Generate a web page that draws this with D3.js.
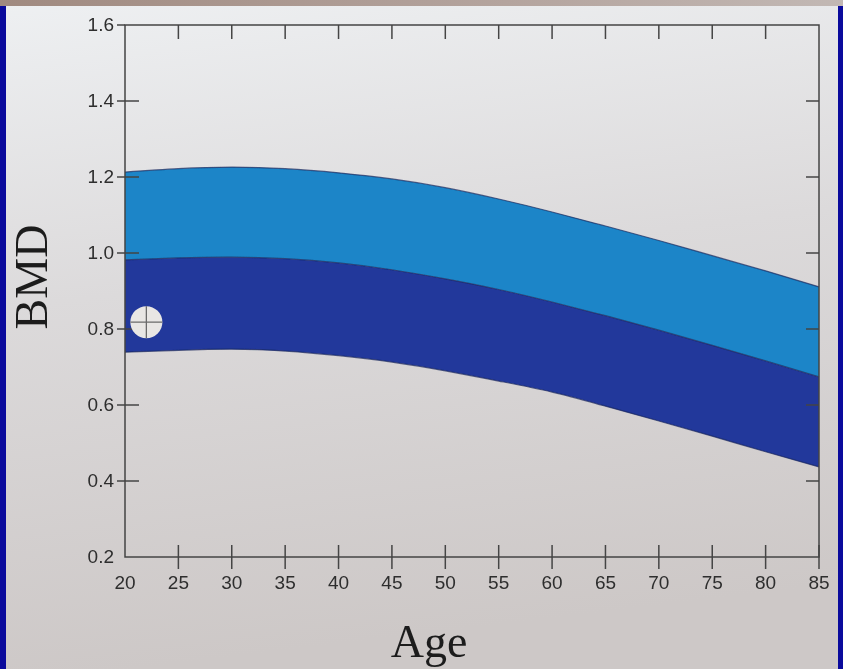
<!DOCTYPE html>
<html>
<head>
<meta charset="utf-8">
<script src="https://cdn.jsdelivr.net/npm/d3@7"></script>
<style>
  body { margin: 0; background: #0a0a9c; }
  svg { display: block; }
</style>
</head>
<body>
<div id="chart"></div>
<script>
// ages along the x axis
const ages = [20, 25, 30, 35, 40, 45, 50, 55, 60, 65, 70, 75, 80, 85];
// band edges (BMD)
const upperBMD = [1.213, 1.222, 1.226, 1.222, 1.211, 1.195, 1.172, 1.142, 1.108, 1.071, 1.033, 0.993, 0.953, 0.911];
const middleBMD = [0.982, 0.987, 0.989, 0.985, 0.974, 0.956, 0.932, 0.904, 0.871, 0.835, 0.797, 0.757, 0.716, 0.674];
const lowerBMD = [0.739, 0.744, 0.747, 0.742, 0.730, 0.713, 0.690, 0.663, 0.634, 0.597, 0.558, 0.518, 0.477, 0.437];
// the patient's measurement
const patient = { age: 22, bmd: 0.818 };
// tick labels
const xTicks = [20, 25, 30, 35, 40, 45, 50, 55, 60, 65, 70, 75, 80, 85];
const yTicks = [0.2, 0.4, 0.6, 0.8, 1.0, 1.2, 1.4, 1.6];

const width = 843;
const height = 669;

const svg = d3.select("#chart")
  .append("svg")
  .attr("width", width)
  .attr("height", height);

const defs = svg.append("defs");
const paper = defs.append("linearGradient")
  .attr("id", "paper")
  .attr("x1", 0).attr("y1", 0).attr("x2", 0.15).attr("y2", 1);
paper.append("stop").attr("offset", "0%").attr("stop-color", "#eef0f2");
paper.append("stop").attr("offset", "45%").attr("stop-color", "#dcdadb");
paper.append("stop").attr("offset", "100%").attr("stop-color", "#cdc8c7");

const table = defs.append("linearGradient")
  .attr("id", "table")
  .attr("x1", 0).attr("y1", 0).attr("x2", 1).attr("y2", 0);
table.append("stop").attr("offset", "0%").attr("stop-color", "#a08a80");
table.append("stop").attr("offset", "60%").attr("stop-color", "#b4a49e");
table.append("stop").attr("offset", "100%").attr("stop-color", "#c2b8b4");

defs.append("filter").attr("id", "soft")
  .append("feGaussianBlur").attr("stdDeviation", 0.45);

// slide frame, table edge and paper
svg.append("rect").attr("width", width).attr("height", height).attr("fill", "#0a0a9c");
svg.append("rect").attr("x", 6).attr("y", 0).attr("width", 832).attr("height", height)
  .attr("fill", "url(#paper)");
svg.append("rect").attr("x", 0).attr("y", 0).attr("width", width).attr("height", 6)
  .attr("fill", "url(#table)");

// scales
const x = d3.scaleLinear().domain([20, 85]).range([125, 819]);
const y = d3.scaleLinear().domain([0.2, 1.6]).range([557, 25]);

const rows = ages.map((a, i) => ({ age: a, up: upperBMD[i], mid: middleBMD[i], low: lowerBMD[i] }));

const g = svg.append("g").attr("filter", "url(#soft)");

const lightArea = d3.area()
  .x(d => x(d.age))
  .y0(d => y(d.mid))
  .y1(d => y(d.up))
  .curve(d3.curveNatural);

const darkArea = d3.area()
  .x(d => x(d.age))
  .y0(d => y(d.low))
  .y1(d => y(d.mid))
  .curve(d3.curveNatural);

g.append("path").datum(rows).attr("d", lightArea).attr("fill", "#1a85c8");
g.append("path").datum(rows).attr("d", darkArea).attr("fill", "#21379b");

const edge = key => d3.line().x(d => x(d.age)).y(d => y(d[key])).curve(d3.curveNatural);
["up", "mid", "low"].forEach(k => {
  g.append("path").datum(rows).attr("d", edge(k))
    .attr("fill", "none").attr("stroke", "#1c2a5e").attr("stroke-width", 1.2)
    .attr("stroke-opacity", 0.7);
});

// frame and ticks
const axisColor = "#444";
g.append("rect")
  .attr("x", x(20)).attr("y", y(1.6))
  .attr("width", x(85) - x(20)).attr("height", y(0.2) - y(1.6))
  .attr("fill", "none").attr("stroke", axisColor).attr("stroke-width", 1.5);

const inner = xTicks.filter(t => t > 20 && t < 85);
// top ticks point down
g.selectAll(".ttop").data(inner).enter().append("line")
  .attr("x1", d => x(d)).attr("x2", d => x(d))
  .attr("y1", y(1.6)).attr("y2", y(1.6) + 14)
  .attr("stroke", axisColor).attr("stroke-width", 1.5);
// bottom ticks cross the axis
g.selectAll(".tbot").data(xTicks.filter(t => t > 20)).enter().append("line")
  .attr("x1", d => x(d)).attr("x2", d => x(d))
  .attr("y1", y(0.2) - 12).attr("y2", y(0.2) + 12)
  .attr("stroke", axisColor).attr("stroke-width", 1.5);
// left ticks cross the axis
g.selectAll(".tleft").data(yTicks.filter(t => t > 0.2)).enter().append("line")
  .attr("x1", x(20) - 8).attr("x2", d => d === 1.6 ? x(20) : x(20) + 14)
  .attr("y1", d => y(d)).attr("y2", d => y(d))
  .attr("stroke", axisColor).attr("stroke-width", 1.5);
// right ticks point inward
g.selectAll(".tright").data(yTicks.filter(t => t > 0.2 && t < 1.6)).enter().append("line")
  .attr("x1", x(85) - 13).attr("x2", x(85))
  .attr("y1", d => y(d)).attr("y2", d => y(d))
  .attr("stroke", axisColor).attr("stroke-width", 1.5);

// tick labels
g.selectAll(".xl").data(xTicks).enter().append("text")
  .attr("x", d => x(d)).attr("y", y(0.2) + 32)
  .attr("text-anchor", "middle")
  .attr("font-family", "Liberation Sans, Arial, sans-serif")
  .attr("font-size", 19).attr("fill", "#2e2e2e")
  .text(d => d);

g.selectAll(".yl").data(yTicks).enter().append("text")
  .attr("x", x(20) - 11).attr("y", d => y(d) + 6)
  .attr("text-anchor", "end")
  .attr("font-family", "Liberation Sans, Arial, sans-serif")
  .attr("font-size", 19).attr("fill", "#2e2e2e")
  .text(d => d3.format(".1f")(d));

// patient marker
const px = x(patient.age), py = y(patient.bmd), r = 16;
g.append("circle").attr("cx", px).attr("cy", py).attr("r", r).attr("fill", "#e8e6e4");
g.append("line").attr("x1", px - r).attr("x2", px + r).attr("y1", py).attr("y2", py)
  .attr("stroke", "#6a6a6a").attr("stroke-width", 1.3);
g.append("line").attr("x1", px).attr("x2", px).attr("y1", py - r).attr("y2", py + r)
  .attr("stroke", "#6a6a6a").attr("stroke-width", 1.3);

// axis titles
g.append("text")
  .attr("x", 429).attr("y", 657)
  .attr("text-anchor", "middle")
  .attr("font-family", "Liberation Serif, Times New Roman, serif")
  .attr("font-size", 46).attr("fill", "#1e1e1e")
  .text("Age");

g.append("text")
  .attr("transform", "translate(47,277) rotate(-90)")
  .attr("text-anchor", "middle")
  .attr("font-family", "Liberation Serif, Times New Roman, serif")
  .attr("font-size", 46).attr("fill", "#1e1e1e")
  .text("BMD");
</script>
</body>
</html>
